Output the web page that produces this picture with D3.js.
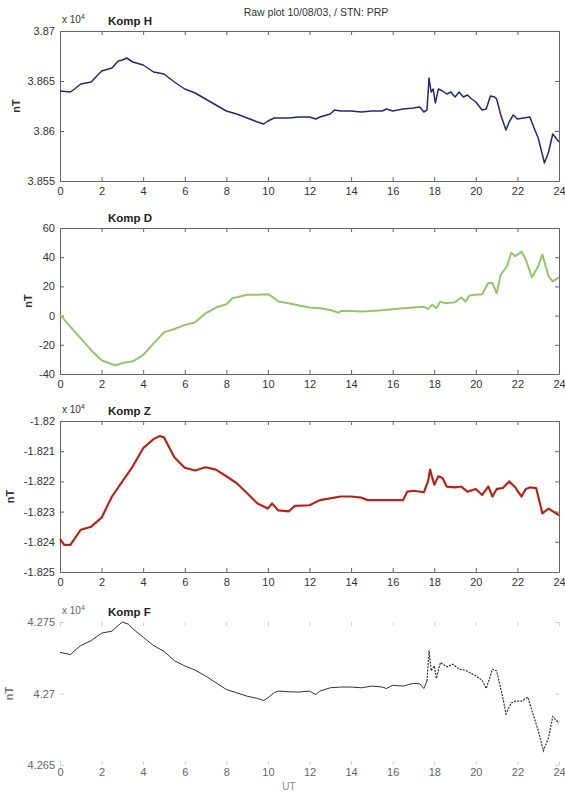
<!DOCTYPE html>
<html>
<head>
<meta charset="utf-8">
<script src="https://cdn.jsdelivr.net/npm/d3@7/dist/d3.min.js"></script>
<style>
  body { margin: 0; background: #fff; }
  text { font-family: "Liberation Sans", Arial, sans-serif; }
</style>
</head>
<body>
<div id="chart"></div>
<script>
// time axis (UT hours)
const xTicks = d3.range(0, 25, 2);

// Komp H (nT)
const hTime = [0,0.5,0.7,1,1.5,2,2.5,2.8,3,3.2,3.5,4,4.5,5,5.5,6,6.5,7,7.5,8,8.5,9,9.5,9.8,10,10.3,10.5,11,11.5,12,12.3,12.5,13,13.2,13.5,14,14.5,15,15.5,15.7,16,16.5,17,17.3,17.5,17.65,17.75,17.85,17.95,18.05,18.2,18.4,18.6,18.8,19,19.2,19.4,19.6,19.8,20,20.3,20.5,20.7,20.9,21,21.2,21.45,21.6,21.8,22,22.3,22.6,22.8,23,23.3,23.5,23.7,24];
const hValue = [38640,38639,38642,38647,38649,38660,38663,38670,38671,38673,38669,38666,38659,38657,38649,38642,38638,38632,38626,38620,38617,38613,38609,38607,38610,38613,38613,38613,38614,38614,38612,38614,38617,38621,38620,38620,38619,38620,38620,38622,38620,38622,38623,38624,38619,38621,38653,38639,38642,38628,38642,38640,38637,38639,38634,38639,38634,38636,38632,38629,38621,38622,38635,38634,38632,38616,38601,38609,38616,38612,38613,38614,38603,38593,38568,38579,38597,38589];

// Komp D (nT)
const dTime = [0,0.5,1,1.5,2,2.5,2.7,3,3.5,4,4.5,5,5.5,6,6.5,7,7.5,8,8.3,8.5,9,9.5,10,10.2,10.5,11,11.5,12,12.5,13,13.4,13.5,14,14.5,15,15.5,16,16.5,17,17.5,17.7,17.9,18.1,18.3,18.5,19,19.3,19.5,19.7,20,20.3,20.6,20.8,21,21.2,21.5,21.7,21.9,22.2,22.4,22.7,23,23.2,23.5,23.7,24];
const dValue = [0.5,-7.6,-15.6,-23.7,-30.6,-33.3,-34,-32.4,-31.3,-27,-19,-11.5,-9.2,-6.4,-4.6,1.6,5.5,7.8,12,12.6,14.3,14.3,14.7,13,9.6,8.5,6.9,5.5,5,3.9,2,3.2,3.2,2.8,3.2,3.7,4.4,5,5.5,6,4.6,7.4,5,9.6,8.5,9.2,12.4,9.6,13.8,14.3,14.7,22.3,22.3,15.4,28,33.8,43,40.7,43.7,38.4,26.2,33.8,41.8,26.9,23.4,26.2];

// Komp Z (nT)
const zTime = [0,0.2,0.5,1,1.5,2,2.5,3,3.5,4,4.5,4.8,5,5.5,6,6.5,7,7.5,8,8.5,9,9.5,10,10.2,10.5,11,11.3,12,12.5,13,13.5,14,14.5,14.8,15,15.5,16,16.5,16.7,17,17.5,17.7,17.8,18,18.2,18.4,18.6,19,19.3,19.6,20,20.3,20.6,20.8,21,21.3,21.6,21.9,22,22.2,22.4,22.6,22.9,23,23.2,23.5,24];
const zValue = [-18239,-18241,-18241,-18236,-18235,-18232,-18225,-18220,-18215,-18209,-18206,-18205,-18205.4,-18212,-18215.5,-18216.4,-18215.3,-18216.1,-18218.3,-18220.6,-18223.9,-18227.3,-18229,-18227.3,-18229.6,-18229.9,-18228.1,-18227.9,-18226.2,-18225.6,-18225,-18225,-18225.4,-18226.2,-18226.2,-18226.2,-18226.2,-18226.2,-18223.4,-18223.1,-18223.6,-18220,-18216.1,-18221.1,-18218.3,-18218.9,-18221.7,-18222,-18221.7,-18223.4,-18222.5,-18224.5,-18221.7,-18225,-18222.5,-18222.2,-18220,-18222,-18223.1,-18225,-18222.5,-18222,-18222.2,-18225,-18230.6,-18229,-18231.2];

// Komp F (nT)
const fTime = [0,0.5,0.8,1,1.5,2,2.5,2.8,3,3.3,3.5,4,4.5,5,5.5,6,6.5,7,7.5,8,8.5,9,9.5,9.8,10,10.3,10.5,11,11.5,12,12.3,12.5,13,13.5,14,14.5,15,15.5,15.7,16,16.5,17,17.3,17.5,17.65,17.75,17.85,18,18.1,18.3,18.6,18.9,19.2,19.5,19.8,20,20.3,20.5,20.8,21,21.3,21.45,21.7,21.9,22.2,22.5,22.8,23,23.25,23.5,23.7,24];
const fValue = [42728.8,42727.2,42731.2,42733.5,42737,42742.2,42743.6,42747.6,42750,42748.4,42745.3,42739.4,42733.5,42729.5,42722.9,42719.3,42716.3,42712.3,42707.5,42702.8,42700.5,42698.1,42696.5,42695.1,42697,42700.5,42701.7,42701.2,42701,42701.7,42699.3,42701.7,42704,42704.5,42704.5,42704,42705.2,42704.5,42703.5,42705.7,42705.2,42707.1,42706.8,42703.5,42708.7,42730,42715.8,42719.3,42710.6,42721.7,42718.6,42720.5,42717,42716.3,42713.9,42712.3,42709.2,42703.5,42717,42715.8,42697,42685.8,42693.4,42694.6,42694.6,42697.4,42683.4,42674.1,42659.9,42669.3,42683.9,42679.2];
const fBreak = 17.65; // after this the F trace prints broken/dotted

const titles = ["Komp H", "Komp D", "Komp Z", "Komp F"];
const yDomains = [[38550, 38700], [-40, 60], [-18250, -18200], [42650, 42750]];
const yTicks = [
  [38550, 38600, 38650, 38700],
  [-40, -20, 0, 20, 40, 60],
  [-18250, -18240, -18230, -18220, -18210, -18200],
  [42650, 42700, 42750]
];
const scaled = [true, false, true, true]; // "x 10^4" labels

const width = 565, height = 792;
const left = 60, right = 559;
const tops = [31, 228, 421, 622];
const bottoms = [181, 374, 572, 765];
const ylabX = [20, 32, 14, 13];
const colors = ["#1f2a78", "#94c56a", "#cf2a1f", "#333333"];
const widths = [1.5, 2, 2.2, 1];

const svg = d3.select("#chart").append("svg")
  .attr("width", width)
  .attr("height", height)
  .style("background", "#fff");

const x = d3.scaleLinear().domain([0, 24]).range([left, right]);

svg.append("text")
  .attr("x", 316).attr("y", 16)
  .attr("text-anchor", "middle")
  .attr("font-size", 10.5)
  .attr("fill", "#333")
  .text("Raw plot 10/08/03, / STN: PRP");

const series = [[hTime, hValue], [dTime, dValue], [zTime, zValue], [fTime, fValue]];

series.forEach(([t, v], i) => {
  const top = tops[i], bottom = bottoms[i];
  const faded = i === 3;
  const axisCol = faded ? "#cfcfcf" : "#666";
  const textCol = faded ? "#666" : "#333";
  const y = d3.scaleLinear().domain(yDomains[i]).range([bottom, top]);
  const fmt = scaled[i] ? (d => String(+(d / 1e4).toFixed(4))) : (d => String(d));

  const g = svg.append("g");

  // bottom + left axes with labels, ticks pointing inward
  g.append("g")
    .attr("transform", `translate(0,${bottom})`)
    .call(d3.axisBottom(x).tickValues(xTicks).tickSize(-4).tickSizeOuter(0).tickPadding(faded ? 3 : 6));
  g.append("g")
    .attr("transform", `translate(${left},0)`)
    .call(d3.axisLeft(y).tickValues(yTicks[i]).tickFormat(fmt).tickSize(-4).tickSizeOuter(0).tickPadding(5));
  // top + right box sides, ticks only
  g.append("g")
    .attr("transform", `translate(0,${top})`)
    .call(d3.axisTop(x).tickValues(xTicks).tickFormat("").tickSize(-4).tickSizeOuter(0));
  g.append("g")
    .attr("transform", `translate(${right},0)`)
    .call(d3.axisRight(y).tickValues(yTicks[i]).tickFormat("").tickSize(-4).tickSizeOuter(0));

  g.selectAll(".domain").attr("stroke", faded ? "none" : axisCol);
  g.selectAll(".tick line").attr("stroke", axisCol);
  g.selectAll(".tick text")
    .attr("font-size", 11)
    .attr("font-family", "'Liberation Sans', Arial, sans-serif")
    .attr("fill", textCol);

  const line = d3.line().x(d => x(d[0])).y(d => y(d[1]));
  const pts = d3.zip(t, v);
  if (faded) {
    g.append("path")
      .datum(pts.filter(d => d[0] <= fBreak))
      .attr("fill", "none")
      .attr("stroke", colors[i])
      .attr("stroke-width", widths[i])
      .attr("d", line);
    g.append("path")
      .datum(pts.filter(d => d[0] >= fBreak))
      .attr("fill", "none")
      .attr("stroke", colors[i])
      .attr("stroke-width", 1.2)
      .attr("stroke-dasharray", "2,1.2")
      .attr("d", line);
  } else {
    g.append("path")
      .datum(pts)
      .attr("fill", "none")
      .attr("stroke", colors[i])
      .attr("stroke-width", widths[i])
      .attr("stroke-linejoin", "round")
      .attr("d", line);
  }
  if (i === 2) {
    // dark core visible inside the red trace
    g.append("path")
      .datum(pts)
      .attr("fill", "none")
      .attr("stroke", "#5a1410")
      .attr("stroke-width", 0.7)
      .attr("opacity", 0.6)
      .attr("d", line);
  }

  // panel title
  g.append("text")
    .attr("x", 108).attr("y", top - 6)
    .attr("font-size", 11.5)
    .attr("font-weight", "bold")
    .attr("fill", "#222")
    .text(titles[i]);

  if (scaled[i]) {
    const s = g.append("text")
      .attr("x", left + 2).attr("y", top - 8)
      .attr("font-size", 10)
      .attr("fill", textCol);
    s.append("tspan").text("x 10");
    s.append("tspan").attr("font-size", 7).attr("dy", -4).text("4");
  }

  g.append("text")
    .attr("transform", `translate(${ylabX[i]},${(top + bottom) / 2}) rotate(-90)`)
    .attr("text-anchor", "middle")
    .attr("font-size", 11)
    .attr("font-weight", "bold")
    .attr("fill", faded ? "#777" : "#333")
    .text("nT");
});

svg.append("text")
  .attr("x", 289).attr("y", 790)
  .attr("text-anchor", "middle")
  .attr("font-size", 10)
  .attr("fill", "#888")
  .text("UT");
</script>
</body>
</html>
